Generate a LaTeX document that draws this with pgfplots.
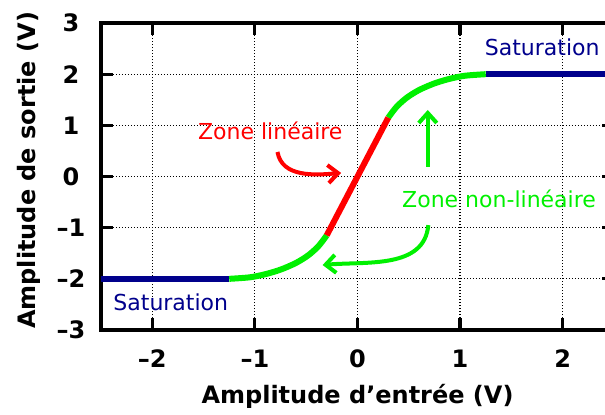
\documentclass[border=0pt]{standalone}
\usepackage{pgfplots}
\pgfplotsset{compat=1.18}
\usetikzlibrary{arrows.meta}
\usepackage{fontspec}
\setmainfont{DejaVu Sans}
\definecolor{satblue}{RGB}{0,0,140}
\definecolor{zgreen}{RGB}{0,240,0}
\definecolor{zred}{RGB}{255,0,0}
\newcommand{\annfont}{\fontsize{11}{13}\selectfont}
\newcommand{\labfont}{\fontsize{12}{14}\selectfont\bfseries}
\begin{document}
\begin{tikzpicture}[trim left=-50.5pt, trim right=252pt]
\path (0,-41.5pt) (0,165pt);
\begin{axis}[
  scale only axis,
  width=256.5pt, height=153.5pt,
  xmin=-2.5, xmax=2.5, ymin=-3, ymax=3,
  xtick={-2,-1,0,1,2}, xticklabels={–2,–1,0,1,2},
  ytick={-3,-2,-1,0,1,2,3}, yticklabels={–3,–2,–1,0,1,2,3},
  axis line style={line width=1.6pt},
  major tick style={line width=1.6pt, black},
  major tick length=6pt,
  grid=major,
  major grid style={black, line width=0.6pt, dash pattern=on 0.6pt off 0.9pt},
  tick label style={font=\labfont},
  xticklabel style={anchor=center, yshift=-14.5pt},
  yticklabel style={anchor=center, xshift=-15pt},
  label style={font=\labfont},
  xlabel={Amplitude d'entrée (V)},
  ylabel={Amplitude de sortie (V)},
  xlabel style={at={(axis description cs:0.5,-0.215)}, anchor=center},
  ylabel style={at={(axis description cs:-0.140,0.52)}, anchor=center},
]
% saturation
\addplot[satblue, line width=3pt] coordinates {(-2.5,-2)(-1.25,-2)};
\addplot[satblue, line width=3pt] coordinates {(1.25,2)(2.5,2)};
% non-linear zones
\addplot[zgreen, line width=3pt, smooth] coordinates {
  (-1.25,-2.0)(-1.05,-1.97)(-0.9,-1.91)(-0.75,-1.82)(-0.6,-1.69)(-0.48,-1.54)(-0.38,-1.36)(-0.3,-1.15)};
\addplot[zgreen, line width=3pt, smooth] coordinates {
  (0.3,1.15)(0.38,1.36)(0.48,1.54)(0.6,1.69)(0.75,1.82)(0.9,1.91)(1.05,1.97)(1.25,2.0)};
% linear zone
\addplot[zred, line width=3pt] coordinates {(-0.3,-1.15)(0.3,1.15)};

\node[zred, font=\annfont] at (axis cs:-0.85,0.89) {Zone linéaire};
\draw[zred, line width=2pt, -{Straight Barb[length=5pt,width=9pt]}]
  (axis cs:-0.78,0.48) to[out=-80, in=185] (axis cs:-0.16,0.07);
\draw[zgreen, line width=2pt, -{Straight Barb[length=5pt,width=9pt]}]
  (axis cs:0.685,0.19) -- (axis cs:0.685,1.30);
\node[zgreen, font=\annfont] at (axis cs:1.38,-0.44) {Zone non-linéaire};
\draw[zgreen, line width=2pt, -{Straight Barb[length=5pt,width=9pt]}]
  (axis cs:0.69,-0.95) to[out=-95, in=5] (axis cs:-0.34,-1.73);
\node[satblue, font=\annfont] at (axis cs:1.80,2.53) {Saturation};
\node[satblue, font=\annfont] at (axis cs:-1.82,-2.45) {Saturation};
\end{axis}
\end{tikzpicture}
\end{document}
